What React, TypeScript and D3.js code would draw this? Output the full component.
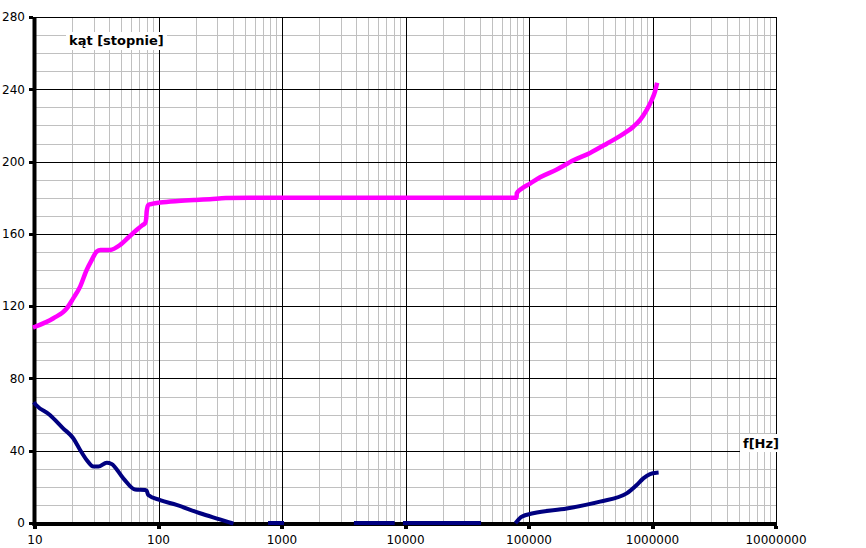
import React from "react";
import * as d3 from "d3";

const W = 866;
const H = 548;

const yTicks = [0, 40, 80, 120, 160, 200, 240, 280];
const xTicks = [10, 100, 1000, 10000, 100000, 1000000, 10000000];
const xTickLabels = ["10", "100", "1000", "10000", "100000", "1000000", "10000000"];

const magentaFreq = [10, 14.1, 18.1, 20.4, 23.2, 26.2, 28.8, 31.6, 34, 40.5, 48.7, 57, 66.4, 74, 77.9, 79.5, 80.2, 82.6, 90, 103, 144, 200, 261, 350, 550, 79400, 79600, 87000, 102000, 123000, 168000, 229000, 312000, 426000, 581000, 700000, 793000, 898000, 985000, 1047000, 1080000];
const magentaAngle = [108.6, 113.3, 118.8, 124.3, 130.8, 140, 145.5, 150.2, 151, 151.1, 153.8, 158, 162.1, 164.8, 165.9, 168.5, 172.3, 176, 176.7, 177.3, 178.2, 178.8, 179.2, 179.8, 180, 180, 182.4, 185, 187.8, 191.3, 195.6, 200.7, 204.8, 209.9, 215.3, 219.3, 223, 228.6, 234, 238.7, 242.4];

// NaN marks breaks in the navy series
const navyFreq = [10, 10.2, 13.2, 16.9, 20.4, 23.2, 26.2, 29.7, 32.6, 38.1, 41.7, 51.9, 64.5, 78, 80.2, 82.6, 103, 140, 217, 314, 390, NaN, 800, 1000, NaN, 3970, 7870, NaN, 9900, 39400, NaN, 79400, 87200, 108000, 202000, 376000, 618000, 745000, 843000, 955000, 1080000];
const navyAngle = [66, 65.3, 59.8, 52.4, 46.9, 40.4, 34.9, 31.2, 31.2, 33.4, 32.7, 24.7, 18.6, 18.3, 17.8, 15.5, 12.7, 10, 5.4, 2, 0, NaN, 0, 0, NaN, 0, 0, NaN, 0, 0, NaN, 0.7, 3.5, 5.4, 8, 11.8, 16.4, 21, 24.7, 27.1, 27.8];

const FONT = "'DejaVu Sans', sans-serif";

export default function App() {
  const x = d3.scaleLog().domain([10, 1e7]).range([35, 776]);
  const y = d3.scaleLinear().domain([0, 280]).range([523, 17]);

  const minorX: number[] = [];
  for (let e = 1; e < 7; e++) {
    for (let k = 2; k <= 9; k++) minorX.push(k * Math.pow(10, e));
  }
  const minorY = d3.range(10, 280, 10).filter((v) => v % 40 !== 0);

  type P = { f: number; a: number };
  const mag: P[] = magentaFreq.map((f, i) => ({ f, a: magentaAngle[i] }));
  const nav: P[] = navyFreq.map((f, i) => ({ f, a: navyAngle[i] }));

  const line = d3
    .line<P>()
    .defined((d) => !isNaN(d.f) && !isNaN(d.a))
    .x((d) => x(d.f))
    .y((d) => y(d.a))
    .curve(d3.curveMonotoneX);

  return (
    <svg
      width={W}
      height={H}
      style={{ position: "absolute", left: 0, top: 0, background: "#fff" }}
      fontFamily={FONT}
    >
      <rect x={0} y={0} width={W} height={H} fill="#fff" />
      {/* minor grid */}
      {minorX.map((v) => (
        <line key={"mx" + v} x1={Math.round(x(v)) + 0.5} x2={Math.round(x(v)) + 0.5} y1={17} y2={523} stroke="#c0c0c0" strokeWidth={1} />
      ))}
      {minorY.map((v) => (
        <line key={"my" + v} x1={35} x2={776} y1={Math.round(y(v)) + 0.5} y2={Math.round(y(v)) + 0.5} stroke="#c0c0c0" strokeWidth={1} />
      ))}
      {/* major grid */}
      {xTicks.slice(1).map((v) => (
        <line key={"Mx" + v} x1={Math.round(x(v)) + 0.5} x2={Math.round(x(v)) + 0.5} y1={17} y2={523} stroke="#000" strokeWidth={1} />
      ))}
      {yTicks.slice(1).map((v) => (
        <line key={"My" + v} x1={35} x2={776} y1={Math.round(y(v)) + 0.5} y2={Math.round(y(v)) + 0.5} stroke="#000" strokeWidth={1} />
      ))}
      {/* axes */}
      <rect x={32.5} y={17} width={4} height={509} fill="#000" />
      <rect x={32.5} y={522} width={744.5} height={4} fill="#000" />
      {yTicks.map((v) => (
        <rect key={"ty" + v} x={29} y={Math.round(y(v)) - 1} width={4} height={3} fill="#000" />
      ))}
      {xTicks.map((v) => (
        <rect key={"tx" + v} x={Math.round(x(v)) - 2} y={526} width={4} height={3} fill="#000" />
      ))}
      {/* data */}
      <path d={line(mag) || ""} fill="none" stroke="#ff00ff" strokeWidth={4.5} strokeLinejoin="round" strokeLinecap="square" />
      <path d={line(nav) || ""} fill="none" stroke="#000080" strokeWidth={4} strokeLinejoin="round" strokeLinecap="square" />
      {/* tick labels */}
      {yTicks.map((v) => (
        <text key={"ly" + v} x={25} y={y(v)} dy="0.36em" textAnchor="end" fontSize={12} fill="#000">
          {v}
        </text>
      ))}
      {xTicks.map((v, i) => (
        <text key={"lx" + v} x={x(v)} y={544} textAnchor="middle" fontSize={12} fill="#000">
          {xTickLabels[i]}
        </text>
      ))}
      {/* axis titles */}
      <rect x={66} y={32} width={101} height={18} fill="#fff" />
      <text x={69} y={45} fontSize={13} fontWeight="bold" fill="#000">
        kąt [stopnie]
      </text>
      <rect x={740} y={434} width={43} height={18} fill="#fff" />
      <text x={743} y={448} fontSize={13} fontWeight="bold" fill="#000">
        f[Hz]
      </text>
    </svg>
  );
}
